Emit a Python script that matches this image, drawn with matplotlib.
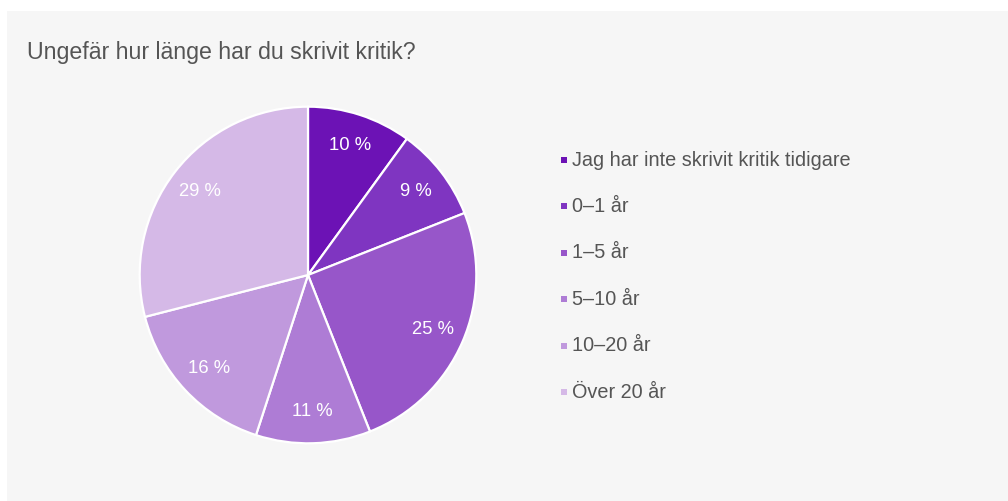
import matplotlib.pyplot as plt
from matplotlib.patches import Rectangle

plt.rcParams['font.family'] = ['Liberation Sans', 'DejaVu Sans']

# data
kategorier = ["Jag har inte skrivit kritik tidigare", "0–1 år", "1–5 år",
              "5–10 år", "10–20 år", "Över 20 år"]
andelar = [10, 9, 25, 11, 16, 29]
farger = ["#6c12b5", "#7f35c1", "#9756c9", "#ae7cd5", "#c099dd", "#d5b9e7"]
titel = "Ungefär hur länge har du skrivit kritik?"

W, H = 1008, 501
fig = plt.figure(figsize=(W / 100, H / 100), dpi=100)
fig.patch.set_facecolor("white")

# grå panel bakom diagrammet
fig.patches.append(Rectangle((7 / W, 0), 1, 1 - 11 / H, transform=fig.transFigure,
                             facecolor="#f6f6f6", edgecolor="none", zorder=-5))

fig.text(27 / W, 1 - 52 / H, titel, fontsize=16.7, color="#555555", va="center")

# cirkeldiagram
cx, cy, r = 308, 275, 170
ax = fig.add_axes([(cx - r) / W, (H - cy - r) / H, 2 * r / W, 2 * r / H], zorder=2)
wedges, etiketter = ax.pie(andelar, colors=farger, startangle=90, counterclock=False,
                           radius=1, labels=[f"{v} %" for v in andelar],
                           labeldistance=0.81,
                           wedgeprops=dict(edgecolor="white", linewidth=1.6),
                           textprops=dict(color="white", fontsize=13.3))
for t in etiketter:
    t.set_ha("center")
    t.set_va("center")
ax.set_xlim(-1.01, 1.01)
ax.set_ylim(-1.01, 1.01)
ax.set_aspect("equal")
ax.axis("off")

# förklaring
y0, dy = 160, 46.4
for i, (namn, f) in enumerate(zip(kategorier, farger)):
    y = y0 + i * dy
    fig.patches.append(Rectangle((561 / W, 1 - (y + 3) / H), 6 / W, 6 / H,
                                 transform=fig.transFigure, facecolor=f,
                                 edgecolor="none"))
    fig.text(572 / W, 1 - y / H, namn, fontsize=14.3, color="#555555", va="center")

fig.savefig("out.png", dpi=100)
